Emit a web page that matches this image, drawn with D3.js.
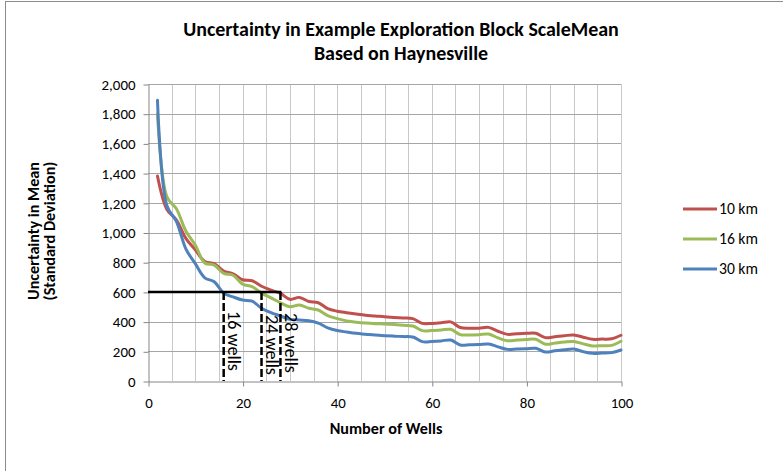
<!DOCTYPE html>
<html><head><meta charset="utf-8">
<script src="https://cdn.jsdelivr.net/npm/d3@7"></script>
<style>body{margin:0;background:#fff} svg{display:block}</style>
</head><body><svg id="c" width="783" height="471"></svg>
<script>
const wells = [2,4,6,8,10,12,14,16,18,20,22,24,26,28,30,32,34,36,38,40,42,44,46,48,50,52,54,56,58,60,62,64,66,68,70,72,74,76,78,80,82,84,86,88,90,92,94,96,98,100];
const sd10km = [1380,1155,1085,960,883,805,790,740,722,682,675,638,612,590,550,563,535,527,487,470,460,451,443,438,432,428,424,420,388,388,392,398,360,355,356,361,335,314,318,321,321,292,298,305,310,295,281,282,284,308];
const sd16km = [1800,1240,1160,1010,915,795,780,725,712,652,635,592,560,527,500,512,490,478,440,420,405,396,390,386,384,380,375,370,339,340,344,348,312,310,312,316,290,271,276,280,281,248,255,262,266,250,236,238,240,268];
const sd30km = [1890,1180,1075,890,790,695,668,592,566,545,538,490,460,438,415,411,406,390,358,340,330,321,315,309,305,302,299,296,265,266,270,276,243,244,246,249,230,213,216,218,220,195,203,210,215,198,186,188,191,209];
const seriesNames = ["10 km","16 km","30 km"];
const seriesColors = ["#C0504D","#9BBB59","#4F81BD"];
const yTicks = [0,200,400,600,800,1000,1200,1400,1600,1800,2000];
const xTicks = [0,20,40,60,80,100];
const targetSD = 600;
const thresholdWells = [16,24,28];
const thresholdLabels = ["16 wells","24 wells","28 wells"];
const titleLines = ["Uncertainty in Example Exploration Block ScaleMean","Based on Haynesville"];
const yLabelLines = ["Uncertainty in Mean","(Standard Deviation)"];
const xLabel = "Number of Wells";

const FONT = "Carlito, Calibri, Lato, 'Open Sans', sans-serif";
const svg = d3.select("#c");
const L = 148, R = 621, T = 84, B = 381;
const x = d3.scaleLinear().domain([0,100]).range([L,R]);
const y = d3.scaleLinear().domain([0,2000]).range([B,T]);

function fit(sel, w){
  const n = sel.node(); const len = n.getComputedTextLength();
  const fs = parseFloat(sel.attr("font-size"));
  if(len>0) sel.attr("font-size", fs*w/len);
  return fs*w/len;
}

// outer frame
svg.append("rect").attr("x",5.5).attr("y",1.5).attr("width",900).attr("height",600)
  .attr("fill","none").attr("stroke","#8c8c8c").attr("stroke-width",1);

// vertical gridlines
svg.append("g").selectAll("line").data(x.ticks(25).filter(d=>d>0)).join("line")
  .attr("x1",d=>Math.round(x(d))+0.5).attr("x2",d=>Math.round(x(d))+0.5)
  .attr("y1",T).attr("y2",B).attr("stroke","#c9c9c9").attr("stroke-width",1);
// horizontal gridlines
svg.append("g").selectAll("line").data(yTicks.filter(d=>d>0)).join("line")
  .attr("x1",L).attr("x2",R)
  .attr("y1",d=>Math.round(y(d))+0.5).attr("y2",d=>Math.round(y(d))+0.5)
  .attr("stroke","#a6a6a6").attr("stroke-width",1);

// axes
const yAxis = d3.axisLeft(y).tickValues(yTicks).tickSize(5).tickSizeOuter(0).tickPadding(8).tickFormat(d3.format(","));
const gy = svg.append("g").attr("transform",`translate(${L+0.5},0.5)`).call(yAxis);
const xAxis = d3.axisBottom(x).tickValues(xTicks).tickSize(5).tickSizeOuter(0).tickPadding(11).tickFormat(d3.format("d"));
const gx = svg.append("g").attr("transform",`translate(0.5,${B+0.5})`).call(xAxis);
[gy,gx].forEach(g=>{
  g.select(".domain").attr("stroke","#868686");
  g.selectAll(".tick line").attr("stroke","#868686");
  g.selectAll("text").attr("font-family",FONT).attr("font-size",14).attr("fill","#000");
});
const t2000 = gy.selectAll(".tick text").filter(d=>d===2000);
const tickFs = fit(t2000, 34);
gy.selectAll("text").attr("font-size",tickFs);
gx.selectAll("text").attr("font-size",tickFs);

// series
const series = [sd10km, sd16km, sd30km];
const line = d3.line().x((d,i)=>x(wells[i])).y(d=>y(d)).curve(d3.curveCatmullRom.alpha(0.5));
svg.append("g").selectAll("path").data(series).join("path")
  .attr("d",d=>line(d)).attr("fill","none")
  .attr("stroke",(d,i)=>seriesColors[i]).attr("stroke-width",3)
  .attr("stroke-linejoin","round").attr("stroke-linecap","round");

// annotations
const ann = svg.append("g");
ann.append("line").attr("x1",x(0)).attr("x2",x(d3.max(thresholdWells))+1)
  .attr("y1",y(targetSD)).attr("y2",y(targetSD)).attr("stroke","#000").attr("stroke-width",2.5);
ann.selectAll("line.v").data(thresholdWells).join("line").attr("class","v")
  .attr("x1",d=>x(d)).attr("x2",d=>x(d)).attr("y1",y(targetSD)).attr("y2",y(0))
  .attr("stroke","#000").attr("stroke-width",2.5).attr("stroke-dasharray","8,3");
const annFs = (()=>{
  const t = ann.append("text").attr("font-family",FONT).attr("font-size",14).text(thresholdLabels[0]);
  const f = fit(t,60); t.remove(); return f;
})();
ann.selectAll("text.lab").data(thresholdWells).join("text").attr("class","lab")
  .attr("transform",(d,i)=>`translate(${x(d)+11},${[311,315,313][i]}) rotate(90)`)
  .attr("dy","0.35em").attr("font-family",FONT).attr("font-size",annFs).attr("fill","#000")
  .text((d,i)=>thresholdLabels[i]);

// title
const t1 = svg.append("text").attr("x",401).attr("y",29.5).attr("dy","0.35em").attr("text-anchor","middle")
  .attr("font-family",FONT).attr("font-weight","bold").attr("font-size",16).text(titleLines[0]);
const titleFs = fit(t1,436);
svg.append("text").attr("x",401).attr("y",53.5).attr("dy","0.35em").attr("text-anchor","middle")
  .attr("font-family",FONT).attr("font-weight","bold").attr("font-size",titleFs).text(titleLines[1]);

// y label
const yl1 = svg.append("text").attr("transform","translate(33,231) rotate(-90)").attr("dy","0.35em")
  .attr("text-anchor","middle").attr("font-family",FONT).attr("font-weight","bold").attr("font-size",14).text(yLabelLines[0]);
const ylFs = fit(yl1,138);
svg.append("text").attr("transform","translate(49,231) rotate(-90)").attr("dy","0.35em")
  .attr("text-anchor","middle").attr("font-family",FONT).attr("font-weight","bold").attr("font-size",ylFs).text(yLabelLines[1]);

// x label
svg.append("text").attr("x",386).attr("y",428).attr("dy","0.35em").attr("text-anchor","middle")
  .attr("font-family",FONT).attr("font-weight","bold").attr("font-size",ylFs).text(xLabel);

// legend
const lg = svg.append("g");
const legY = [209,239,269];
lg.selectAll("line").data(seriesNames).join("line")
  .attr("x1",683).attr("x2",717).attr("y1",(d,i)=>legY[i]).attr("y2",(d,i)=>legY[i])
  .attr("stroke",(d,i)=>seriesColors[i]).attr("stroke-width",3);
const lt = lg.selectAll("text").data(seriesNames).join("text")
  .attr("x",719).attr("y",(d,i)=>legY[i]).attr("dy","0.35em")
  .attr("font-family",FONT).attr("font-size",14).attr("fill","#000").text(d=>d);
const legFs = fit(d3.select(lt.nodes()[0]),39);
lt.attr("font-size",legFs);
</script></body></html>
